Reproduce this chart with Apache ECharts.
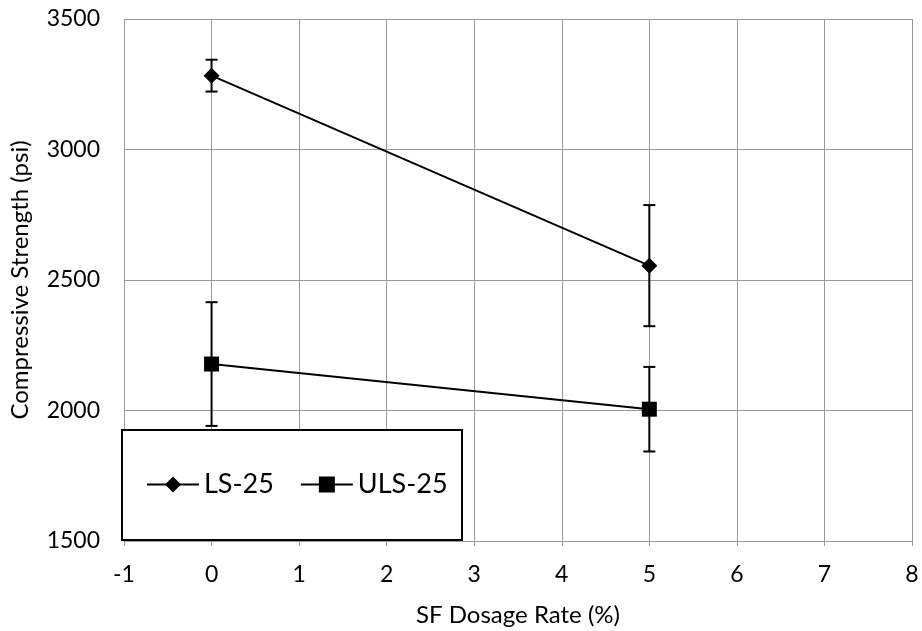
<!DOCTYPE html>
<html>
<head>
<meta charset="utf-8">
<script src="https://cdn.jsdelivr.net/npm/echarts@6/dist/echarts.min.js"></script>
<style>
  html, body { margin: 0; padding: 0; background: #fff; }
  #chart { width: 922px; height: 631px; }
</style>
</head>
<body>
<div id="chart"></div>
<script>
// SF dosage rate (%) for each mix
const dosage = [0, 5];

// Mean compressive strength (psi)
const ls25 = [3283, 2555];
const uls25 = [2178, 2005];

// Error bar half-widths (psi)
const ls25Err = [61, 232];
const uls25Err = [237, 162];

const seriesNames = ['LS-25', 'ULS-25'];

const FONT = 'Lato';

function errData(vals, errs) {
  return dosage.map((x, i) => [x, vals[i] - errs[i], vals[i] + errs[i]]);
}

function errSeries(vals, errs) {
  return {
    type: 'custom',
    silent: true,
    z: 3,
    data: errData(vals, errs),
    encode: { x: 0, y: [1, 2] },
    renderItem: function (params, api) {
      const x = api.value(0);
      const lo = api.coord([x, api.value(1)]);
      const hi = api.coord([x, api.value(2)]);
      const cap = 6;
      const style = { stroke: '#000', lineWidth: 2, fill: null };
      return {
        type: 'group',
        children: [
          { type: 'line', shape: { x1: lo[0], y1: lo[1], x2: hi[0], y2: hi[1] }, style: style },
          { type: 'line', shape: { x1: lo[0] - cap, y1: lo[1], x2: lo[0] + cap, y2: lo[1] }, style: style },
          { type: 'line', shape: { x1: hi[0] - cap, y1: hi[1], x2: hi[0] + cap, y2: hi[1] }, style: style }
        ]
      };
    }
  };
}

const chart = echarts.init(document.getElementById('chart'), null, { renderer: 'canvas' });

const gridColor = '#999999';

chart.setOption({
  animation: false,
  backgroundColor: '#fff',
  grid: { left: 124, right: 10, top: 19, bottom: 90, containLabel: false, outerBoundsMode: 'none' },
  xAxis: {
    type: 'value',
    min: -1, max: 8, interval: 1,
    name: 'SF Dosage Rate (%)',
    nameLocation: 'middle',
    nameGap: 62,
    nameTextStyle: { fontFamily: FONT, fontSize: 24, color: '#000' },
    axisLine: { show: true, lineStyle: { color: gridColor, width: 1 } },
    axisTick: { show: true, length: 5, lineStyle: { color: gridColor } },
    axisLabel: { fontFamily: FONT, fontSize: 23, color: '#000', margin: 22 },
    splitLine: { show: true, lineStyle: { color: gridColor, width: 1 } }
  },
  yAxis: {
    type: 'value',
    min: 1500, max: 3500, interval: 500,
    name: 'Compressive Strength (psi)',
    nameLocation: 'middle',
    nameGap: 92,
    nameRotate: 90,
    nameTextStyle: { fontFamily: FONT, fontSize: 24, color: '#000' },
    axisLine: { show: true, lineStyle: { color: gridColor, width: 1 } },
    axisTick: { show: true, length: 5, lineStyle: { color: gridColor } },
    axisLabel: {
      fontFamily: FONT, fontSize: 23, color: '#000', margin: 24,
      formatter: function (v) { return String(v); }
    },
    splitLine: { show: true, lineStyle: { color: gridColor, width: 1 } }
  },
  legend: {
    z: 100,
    left: 146,
    top: 471,
    padding: 0,
    itemWidth: 52,
    itemHeight: 20,
    itemGap: 26,
    textStyle: { fontFamily: FONT, fontSize: 27, color: '#000' },
    data: seriesNames
  },
  graphic: [{
    type: 'rect',
    z: 50,
    shape: { x: 122, y: 430, width: 340, height: 110 },
    style: { fill: '#fff', stroke: '#000', lineWidth: 2 }
  }],
  series: [
    errSeries(ls25, ls25Err),
    errSeries(uls25, uls25Err),
    {
      name: seriesNames[0],
      type: 'line',
      z: 4,
      data: dosage.map((x, i) => [x, ls25[i]]),
      symbol: 'diamond',
      symbolSize: 16,
      lineStyle: { color: '#000', width: 2 },
      itemStyle: { color: '#000' }
    },
    {
      name: seriesNames[1],
      type: 'line',
      z: 4,
      data: dosage.map((x, i) => [x, uls25[i]]),
      symbol: 'rect',
      symbolSize: 15,
      lineStyle: { color: '#000', width: 2 },
      itemStyle: { color: '#000' }
    }
  ]
});
</script>
</body>
</html>
